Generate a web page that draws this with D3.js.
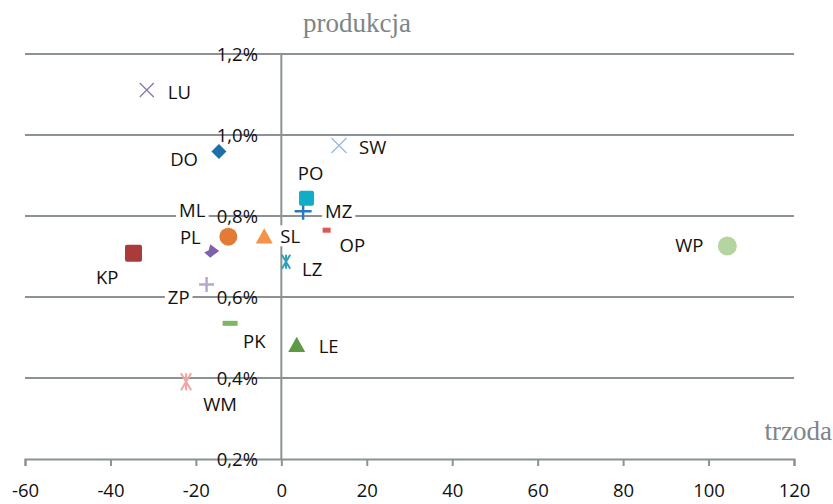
<!DOCTYPE html>
<html>
<head>
<meta charset="utf-8">
<script src="https://cdn.jsdelivr.net/npm/d3@7"></script>
<style>
    body { margin: 0; background: #fff; }
    svg text { font-family: "Open Sans", "Liberation Sans", sans-serif; }
</style>
</head>
<body>
<div id="chart"></div>
<script>
// regions (voivodeship codes)
const codes = ['LU', 'DO', 'SW', 'MZ', 'PO', 'ML', 'SL', 'OP', 'PL', 'KP', 'LZ', 'ZP', 'PK', 'LE', 'WM', 'WP'];
// trzoda (x)
const trzoda = [-31.5, -14.6, 13.5, 5.1, 5.9, -12.4, -4.0, 10.6, -16.3, -34.6, 1.1, -17.5, -12.0, 3.6, -22.3, 104.4];
// produkcja (y, in %)
const produkcja = [1.111, 0.959, 0.974, 0.812, 0.844, 0.749, 0.749, 0.765, 0.712, 0.708, 0.687, 0.631, 0.535, 0.481, 0.391, 0.726];

const xTicks = [-60, -40, -20, 0, 20, 40, 60, 80, 100, 120];
const yTicks = [0.2, 0.4, 0.6, 0.8, 1.0, 1.2];

// marker look per region
const markers = {
    LU: { shape: 'x', color: '#8a74ad', size: 14 },
    DO: { shape: 'diamond', color: '#1f6ea6', size: 15 },
    SW: { shape: 'x', color: '#9ab8dc', size: 15 },
    MZ: { shape: 'plus', color: '#2a79bd', size: 17 },
    PO: { shape: 'square', color: '#0fadc7', size: 15 },
    ML: { shape: 'circle', color: '#e27b36', size: 18 },
    SL: { shape: 'triangle', color: '#f5934a', size: 17 },
    OP: { shape: 'dash', color: '#e05555', size: 8 },
    PL: { shape: 'chevron', color: '#8062aa', size: 15 },
    KP: { shape: 'square', color: '#aa3b3b', size: 17 },
    LZ: { shape: 'star', color: '#2fa2b5', size: 14 },
    ZP: { shape: 'plus', color: '#b7a8cf', size: 15 },
    PK: { shape: 'dash', color: '#7cb860', size: 15 },
    LE: { shape: 'triangle', color: '#5e9a44', size: 17 },
    WM: { shape: 'star', color: '#f2a4a4', size: 17 },
    WP: { shape: 'circle', color: '#b5d5a0', size: 19 }
};

// label placement relative to the marker
const labelPos = {
    LU: [21, 2, 'start'], DO: [-21, 8, 'end'], SW: [20, 2, 'start'], PO: [4, -25, 'middle'],
    MZ: [22, 0, 'start'], ML: [-23, -26, 'end'], SL: [16, 0, 'start'], OP: [13, 15, 'start'],
    PL: [-11, -14, 'end'], KP: [-15, 24, 'end'], LZ: [16, 8, 'start'], ZP: [-17, 13, 'end'],
    PK: [13, 18, 'start'], LE: [22, 1, 'start'], WM: [34, 23, 'middle'], WP: [-24, -1, 'end']
};

const width = 833, height = 504;
const svg = d3.select('#chart').append('svg')
    .attr('width', width)
    .attr('height', height);

const x = d3.scaleLinear().domain([-60, 120]).range([25, 794]);
const y = d3.scaleLinear().domain([0.2, 1.2]).range([459, 54]);
const gridColor = '#8b9294';
const fontSize = 18.5;
const fmt = v => v.toFixed(1).replace('.', ',') + '%';

// horizontal gridlines
svg.append('g').selectAll('line')
    .data(yTicks.filter(v => v > 0.2))
    .enter().append('line')
    .attr('x1', x(-60)).attr('x2', x(120))
    .attr('y1', d => y(d)).attr('y2', d => y(d))
    .attr('stroke', gridColor).attr('stroke-width', 2);

// x axis at the bottom
const xAxis = svg.append('g')
    .attr('transform', `translate(0,${y(0.2)})`)
    .call(d3.axisBottom(x).tickValues(xTicks).tickFormat(d => String(d)).tickSize(7).tickPadding(18));
xAxis.select('.domain').attr('stroke', gridColor).attr('stroke-width', 2);
xAxis.selectAll('.tick line').attr('stroke', gridColor).attr('stroke-width', 2);
xAxis.selectAll('.tick text')
    .attr('font-size', fontSize).attr('fill', '#111')
    .style('font-family', '"Open Sans", sans-serif');

// y axis crossing at x = 0
svg.append('line')
    .attr('x1', x(0)).attr('x2', x(0))
    .attr('y1', y(1.2)).attr('y2', y(0.2))
    .attr('stroke', gridColor).attr('stroke-width', 2);

svg.append('g').selectAll('text')
    .data(yTicks)
    .enter().append('text')
    .attr('x', 258)
    .attr('y', d => y(d))
    .attr('dy', '0.36em')
    .attr('text-anchor', 'end')
    .attr('font-size', fontSize)
    .attr('fill', '#111')
    .text(fmt);

// axis titles
svg.append('text')
    .attr('x', 357).attr('y', 32)
    .attr('text-anchor', 'middle')
    .attr('font-size', 27)
    .attr('fill', '#7d8587')
    .style('font-family', '"Liberation Serif", serif')
    .text('produkcja');

svg.append('text')
    .attr('x', 832).attr('y', 440)
    .attr('text-anchor', 'end')
    .attr('font-size', 27)
    .attr('fill', '#7d8587')
    .style('font-family', '"Liberation Serif", serif')
    .text('trzoda');

const points = codes.map((c, i) => ({ code: c, tx: trzoda[i], pr: produkcja[i] }));

// labels with white boxes (drawn before markers)
const labels = svg.append('g');
points.forEach(p => {
    const [dx, dy, anchor] = labelPos[p.code];
    const g = labels.append('g');
    const t = g.append('text')
        .attr('x', x(p.tx) + dx)
        .attr('y', y(p.pr) + dy)
        .attr('dy', '0.36em')
        .attr('text-anchor', anchor)
        .attr('font-size', fontSize)
        .attr('fill', '#111')
        .text(p.code);
    const b = t.node().getBBox();
    g.insert('rect', 'text')
        .attr('x', b.x - 3).attr('y', b.y + 2)
        .attr('width', b.width + 6).attr('height', b.height - 4)
        .attr('fill', '#fff');
});

function drawMarker(g, m) {
    const s = m.size, h = s / 2;
    if (m.shape === 'x') {
        g.append('path').attr('d', `M${-h},${-h}L${h},${h}M${-h},${h}L${h},${-h}`)
            .attr('stroke', m.color).attr('stroke-width', 1.3).attr('fill', 'none');
    } else if (m.shape === 'plus') {
        g.append('path').attr('d', `M${-h},0L${h},0M0,${-h}L0,${h}`)
            .attr('stroke', m.color).attr('stroke-width', 2.5).attr('fill', 'none');
    } else if (m.shape === 'star') {
        g.append('path').attr('d', `M${-h * 0.6},${-h}L${h * 0.6},${h}M${-h * 0.6},${h}L${h * 0.6},${-h}M0,${-h}L0,${h}`)
            .attr('stroke', m.color).attr('stroke-width', 2).attr('fill', 'none');
    } else if (m.shape === 'dash') {
        g.append('rect').attr('x', -h).attr('y', -2.5).attr('width', s).attr('height', 5)
            .attr('fill', m.color);
    } else if (m.shape === 'square') {
        g.append('rect').attr('x', -h).attr('y', -h).attr('width', s).attr('height', s)
            .attr('rx', 2).attr('fill', m.color);
    } else if (m.shape === 'diamond') {
        g.append('path').attr('d', `M0,${-h}L${h},0L0,${h}L${-h},0Z`).attr('fill', m.color);
    } else if (m.shape === 'chevron') {
        g.append('path').attr('d', `M${-h * 0.2},${-h}L${h},${-h * 0.1}L${-h * 0.2},${h * 0.8}L${-h},${h * 0.1}L${-h * 0.4},${-h * 0.2}Z`)
            .attr('fill', m.color);
    } else if (m.shape === 'triangle') {
        g.append('path').attr('d', `M0,${-h}L${h},${h * 0.8}L${-h},${h * 0.8}Z`).attr('fill', m.color);
    } else if (m.shape === 'circle') {
        g.append('path').attr('d', d3.symbol().type(d3.symbolCircle).size(Math.PI * h * h)()).attr('fill', m.color);
    }
}

const marks = svg.append('g');
points.forEach(p => {
    const g = marks.append('g').attr('transform', `translate(${x(p.tx)},${y(p.pr)})`);
    drawMarker(g, markers[p.code]);
});
</script>
</body>
</html>
